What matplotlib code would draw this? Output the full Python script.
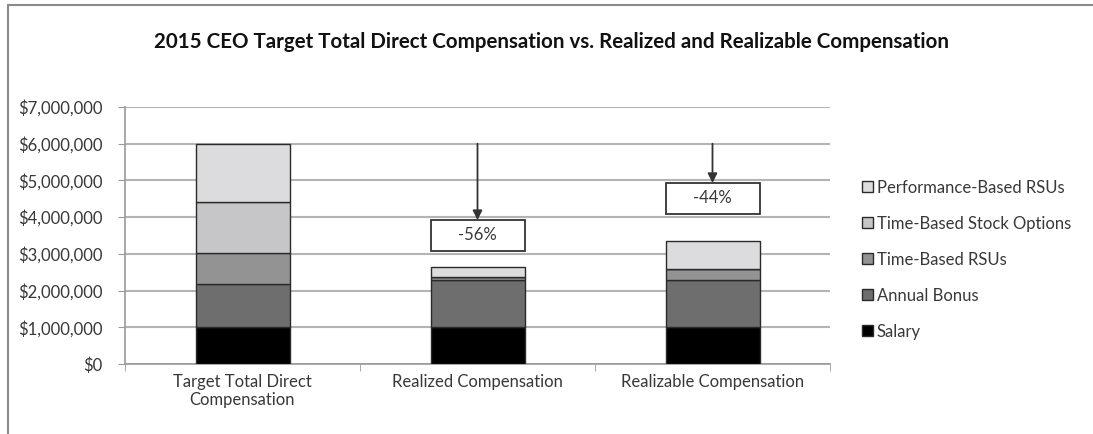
import matplotlib
matplotlib.use("Agg")
import matplotlib.pyplot as plt
from matplotlib.patches import Rectangle, Patch
from matplotlib.ticker import FuncFormatter, FixedLocator

plt.rcParams['font.family'] = ['Lato', 'DejaVu Sans']

categories = ["Target Total Direct\nCompensation", "Realized Compensation", "Realizable Compensation"]
series_names = ["Salary", "Annual Bonus", "Time-Based RSUs", "Time-Based Stock Options", "Performance-Based RSUs"]
salary = [1000000, 1000000, 1000000]
annual_bonus = [1180000, 1300000, 1290000]
time_rsus = [840000, 60000, 290000]
stock_options = [1390000, 20000, 0]
perf_rsus = [1590000, 270000, 760000]
change_labels = ["-56%", "-44%"]
yticks = [0, 1000000, 2000000, 3000000, 4000000, 5000000, 6000000, 7000000]

colors = ["#000000", "#6e6e6e", "#939393", "#c6c6c8", "#dcdcde"]
series = [salary, annual_bonus, time_rsus, stock_options, perf_rsus]

fig = plt.figure(figsize=(10.93, 4.34), dpi=100)
ax = fig.add_axes([125/1093, 1-364/434, 705/1093, (364-107)/434])

x = list(range(len(categories)))
bottom = [0]*len(categories)
handles = []
for name, vals, c in zip(series_names, series, colors):
    ax.bar(x, vals, width=0.40, bottom=bottom, color=c, edgecolor="#2a2a2a", linewidth=1.0, zorder=3)
    handles.append(Patch(facecolor=c, edgecolor="#2a2a2a", linewidth=1.0, label=name))
    bottom = [b+v for b, v in zip(bottom, vals)]

totals = bottom
ax.set_xlim(-0.5, 2.5)
ax.set_ylim(0, 7000000)
ax.yaxis.set_major_locator(FixedLocator(yticks))
ax.yaxis.set_major_formatter(FuncFormatter(lambda v, p: "${:,.0f}".format(v)))
ax.grid(axis='y', color="#b4b4b4", linewidth=1.5, zorder=0)
for s in ["top", "right"]:
    ax.spines[s].set_visible(False)
ax.spines["left"].set_color("#9a9a9a")
ax.spines["left"].set_linewidth(1.2)
ax.spines["bottom"].set_color("#9a9a9a")
ax.spines["bottom"].set_linewidth(1.2)
ax.tick_params(axis='y', length=5, color="#9a9a9a", labelsize=12, labelcolor="#383838", pad=11)
ax.set_xticks(x)
ax.set_xticklabels(categories, fontsize=12, color="#383838", linespacing=1.15)
ax.tick_params(axis='x', length=0, pad=7)
ax.set_xticks([-0.5, 0.5, 1.5, 2.5], minor=True)
ax.tick_params(axis='x', which='minor', length=5, color="#9a9a9a")

# arrows and change boxes
box_tops = [3920000, 4930000]
box_h = 840000
for i, (lab, bt) in enumerate(zip(change_labels, box_tops)):
    xi = i + 1
    ax.annotate("", xy=(xi, bt), xytext=(xi, totals[0]),
                arrowprops=dict(arrowstyle="-|>", color="#333333", lw=1.3, mutation_scale=14,
                                shrinkA=0, shrinkB=0), zorder=5)
    ax.add_patch(Rectangle((xi-0.2, bt-box_h), 0.4, box_h, facecolor="white",
                           edgecolor="#333333", linewidth=1.3, zorder=4))
    ax.text(xi, bt-box_h/2, lab, ha="center", va="center", fontsize=12, color="#383838", zorder=6)

fig.text(551/1093, 1-42/434, "2015 CEO Target Total Direct Compensation vs. Realized and Realizable Compensation",
         ha="center", va="center", fontsize=14.8, fontweight="bold", color="#111111")

leg = fig.legend(handles=handles[::-1], loc="upper left", bbox_to_anchor=(855/1093, 1-173/434),
                 frameon=False, fontsize=12, labelspacing=1.2, handlelength=0.65, handleheight=0.65,
                 handletextpad=0.25, borderaxespad=0)
for t in leg.get_texts():
    t.set_color("#383838")

fig.patches.append(Rectangle((8/1093, -0.1), 1.2, 1-5/434+0.1, transform=fig.transFigure,
                             fill=False, edgecolor="#8a8a8a", linewidth=1.5))

fig.savefig("out.png", dpi=100)
